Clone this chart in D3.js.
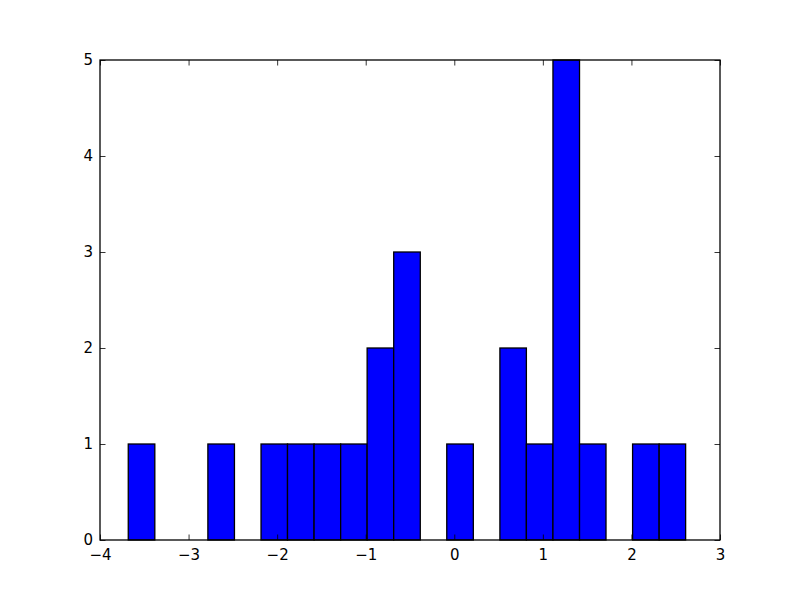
<!DOCTYPE html>
<html>
<head>
<meta charset="utf-8">
<script src="https://cdn.jsdelivr.net/npm/d3@7"></script>
<style>
  body { margin: 0; background: #fff; }
  svg { display: block; }
  text { font-family: "DejaVu Sans", sans-serif; font-size: 15px; fill: #000; }
</style>
</head>
<body>
<svg id="chart" width="800" height="600"></svg>
<script>
// Histogram bin edges (data units) and counts per bin
const binEdges = [-3.681, -3.381, -3.081, -2.782, -2.482, -2.182, -1.883, -1.583, -1.283, -0.984,
                  -0.684, -0.384, -0.085, 0.215, 0.515, 0.814, 1.114, 1.414, 1.713, 2.013, 2.313, 2.612];
const counts = [1, 0, 0, 1, 0, 1, 1, 1, 1, 2, 3, 0, 1, 0, 2, 1, 5, 1, 0, 1, 1];
const xTicks = [-4, -3, -2, -1, 0, 1, 2, 3];
const yTicks = [0, 1, 2, 3, 4, 5];

const margin = { left: 100, right: 80, top: 60, bottom: 60 };
const W = 800, H = 600;
const svg = d3.select("#chart");

const x = d3.scaleLinear().domain([-4, 3]).range([margin.left, W - margin.right]);
const y = d3.scaleLinear().domain([0, 5]).range([H - margin.bottom, margin.top]);

const bins = counts.map((c, i) => ({ x0: binEdges[i], x1: binEdges[i + 1], n: c }));

svg.append("g").selectAll("rect")
  .data(bins.filter(b => b.n > 0))
  .join("rect")
  .attr("x", d => x(d.x0))
  .attr("y", d => y(d.n))
  .attr("width", d => x(d.x1) - x(d.x0))
  .attr("height", d => y(0) - y(d.n))
  .attr("fill", "#0000ff")
  .attr("stroke", "#000")
  .attr("stroke-width", 1.3);

const tickLen = 5.5;
const fmt = d => d < 0 ? "\u2212" + Math.abs(d) : String(d);

// Axes with inside ticks
const axBottom = d3.axisBottom(x).tickValues(xTicks).tickSizeInner(-tickLen).tickSizeOuter(0).tickPadding(9).tickFormat(fmt);
const axTop = d3.axisTop(x).tickValues(xTicks).tickSizeInner(-tickLen).tickSizeOuter(0).tickFormat("");
const axLeft = d3.axisLeft(y).tickValues(yTicks).tickSizeInner(-tickLen).tickSizeOuter(0).tickPadding(7).tickFormat(fmt);
const axRight = d3.axisRight(y).tickValues(yTicks).tickSizeInner(-tickLen).tickSizeOuter(0).tickFormat("");

function style(g) {
  g.select(".domain").remove();
  g.selectAll(".tick line").attr("stroke", "#000").attr("stroke-width", 0.8);
  g.selectAll(".tick text").style("font-family", "DejaVu Sans, sans-serif").style("font-size", "15px").attr("fill", "#000");
}
svg.append("g").attr("transform", `translate(0,${y(0)})`).call(axBottom).call(style);
svg.append("g").attr("transform", `translate(0,${y(5)})`).call(axTop).call(style);
svg.append("g").attr("transform", `translate(${x(-4)},0)`).call(axLeft).call(style);
svg.append("g").attr("transform", `translate(${x(3)},0)`).call(axRight).call(style);

// Frame
svg.append("rect")
  .attr("x", x(-4)).attr("y", y(5))
  .attr("width", x(3) - x(-4)).attr("height", y(0) - y(5))
  .attr("fill", "none").attr("stroke", "#000").attr("stroke-width", 1.3);
</script>
</body>
</html>
